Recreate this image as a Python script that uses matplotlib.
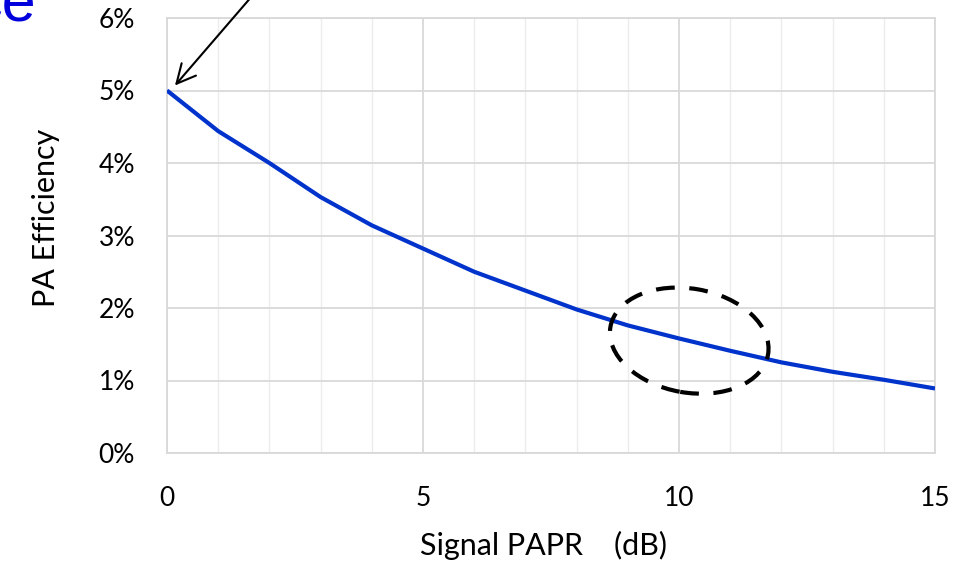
import numpy as np
import matplotlib.pyplot as plt
from matplotlib.patches import Ellipse
from matplotlib.transforms import ScaledTranslation
from matplotlib.ticker import MultipleLocator, PercentFormatter

papr_db = [0, 1, 2, 3, 4, 5, 6, 7, 8, 9, 10, 11, 12, 13, 14, 15]
efficiency = [5.0, 4.44, 4.0, 3.53, 3.14, 2.82, 2.50, 2.24, 1.98, 1.76,
              1.58, 1.41, 1.25, 1.12, 1.01, 0.89]

plt.rcParams['font.family'] = ['Lato', 'DejaVu Sans']

fig = plt.figure(figsize=(9.75, 5.61), dpi=100)
ax = fig.add_axes([167/975, 108/561, 768/975, 435/561])

ax.plot(papr_db, efficiency, color='#0033cc', lw=3, solid_capstyle='butt', zorder=3)

ax.set_xlim(0, 15)
ax.set_ylim(0, 6)
ax.xaxis.set_major_locator(MultipleLocator(5))
ax.xaxis.set_minor_locator(MultipleLocator(1))
ax.yaxis.set_major_locator(MultipleLocator(1))
ax.yaxis.set_major_formatter(PercentFormatter(decimals=0))
ax.grid(which='major', color='#d9d9d9', lw=1.3)
ax.grid(which='minor', axis='x', color='#ececec', lw=1.0)
ax.tick_params(which='both', length=0, labelsize=19)
ax.tick_params(axis='y', pad=23)
ax.tick_params(axis='x', pad=24)
for s in ax.spines.values():
    s.set_color('#d9d9d9')
    s.set_linewidth(1.3)
ax.set_axisbelow(True)

ax.set_xlabel('Signal PAPR    (dB)', fontsize=22, labelpad=14, x=0.49)
ax.set_ylabel('PA Efficiency', fontsize=22, labelpad=28, y=0.54)

# dashed ellipse around the 10 dB region (size in inches, centred in data coords)
ell = Ellipse((0, 0), 1.60, 1.04, angle=-10, fill=False, ec='black', lw=3,
              ls=(0, (4.5, 3.5)),
              transform=fig.dpi_scale_trans + ScaledTranslation(10.2, 1.55, ax.transData),
              zorder=4)
ax.add_patch(ell)

# arrow pointing at the 0 dB point
ax.annotate('', xy=(0.12, 5.04), xycoords='data',
            xytext=(265, 580), textcoords='figure pixels',
            arrowprops=dict(arrowstyle='->', color='black', lw=1.5,
                            mutation_scale=34),
            annotation_clip=False)

# cut-off blue title fragment at top-left
fig.text(36/975, 1 - 21/561, 'ce', color='#0000dd', fontsize=44,
         family='Liberation Sans', ha='right', va='baseline')

fig.savefig('out.png', dpi=100)
